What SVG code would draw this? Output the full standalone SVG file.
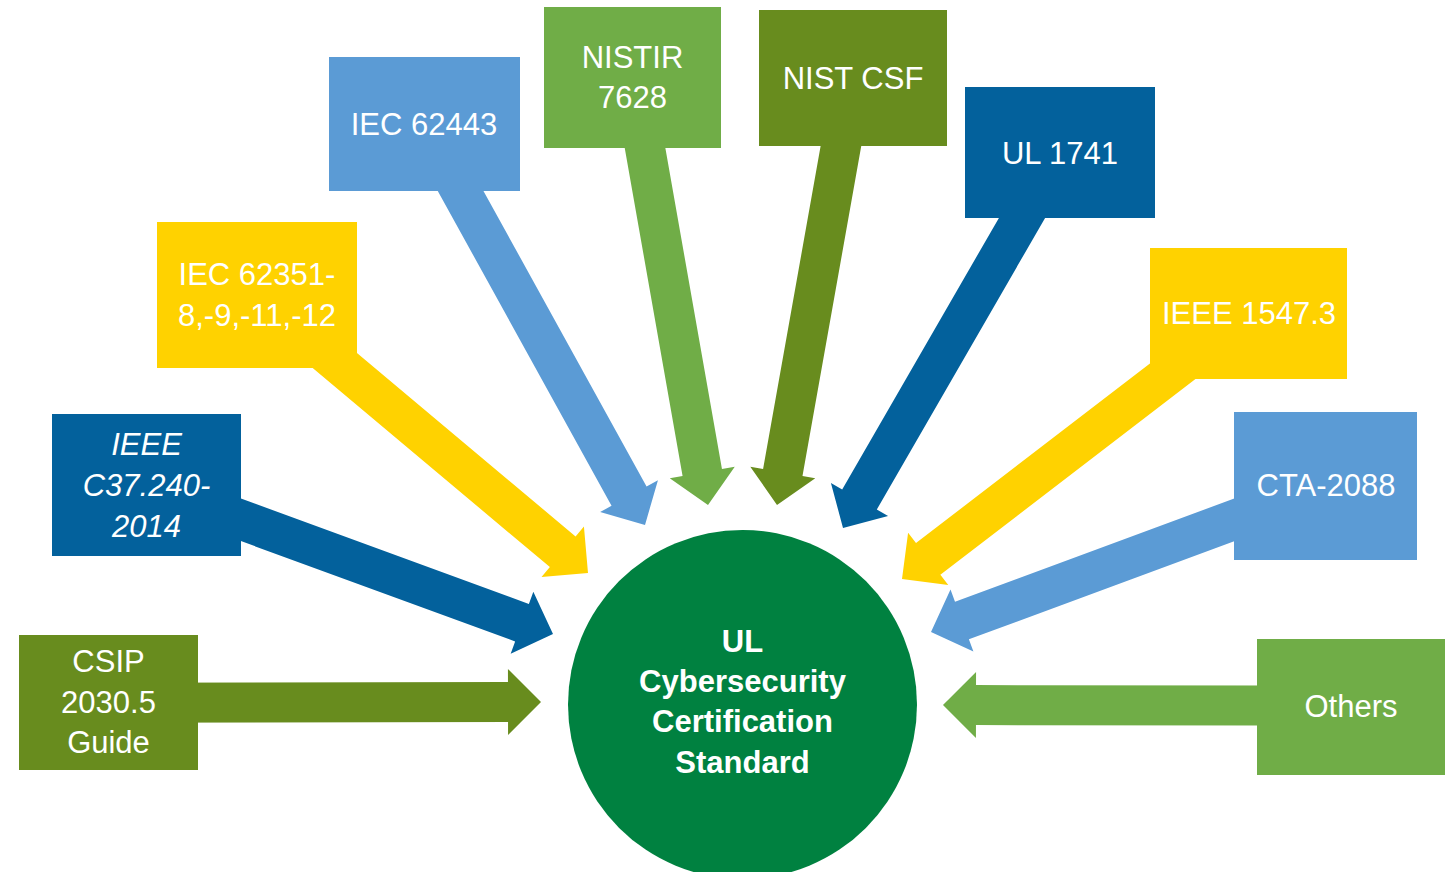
<svg xmlns="http://www.w3.org/2000/svg" width="1445" height="872" viewBox="0 0 1445 872">
  <style>
    .olive { fill: #688c1e; }
    .navy { fill: #03619c; }
    .gold { fill: #ffd200; }
    .sky { fill: #5b9bd5; }
    .leaf { fill: #70ad47; }
    .hub { fill: #008140; }
    .label { font-family: "Liberation Sans", Arial, sans-serif; font-size: 31px; fill: #ffffff; text-anchor: middle; }
    .italic { font-style: italic; }
    .hub-label { font-family: "Liberation Sans", Arial, sans-serif; font-size: 31px; font-weight: bold; fill: #ffffff; text-anchor: middle; }
  </style>
  <defs>
    <!-- block arrow pointing along +x, tip at the origin; shaft reaches back 440px -->
    <path id="block-arrow" d="M -440,-20 L -33,-20 L -33,-33 L 0,0 L -33,33 L -33,20 L -440,20 Z"/>
  </defs>
  <rect width="1445" height="872" fill="#ffffff"/>

  <!-- connectors: each block arrow runs from its box toward the hub -->
  <g id="connectors">
    <use href="#block-arrow" class="olive" transform="translate(541,702) rotate(-0.1)"/>
    <use href="#block-arrow" class="navy" transform="translate(553,634) rotate(20.1)"/>
    <use href="#block-arrow" class="gold" transform="translate(588,573) rotate(40)"/>
    <use href="#block-arrow" class="sky" transform="translate(645,525) rotate(61.1)"/>
    <use href="#block-arrow" class="leaf" transform="translate(708,505) rotate(80)"/>
    <use href="#block-arrow" class="olive" transform="translate(777,505) rotate(100.1)"/>
    <use href="#block-arrow" class="navy" transform="translate(843,528) rotate(120)"/>
    <use href="#block-arrow" class="gold" transform="translate(902,579) rotate(142.5)"/>
    <use href="#block-arrow" class="sky" transform="translate(931,632) rotate(159.7)"/>
    <use href="#block-arrow" class="leaf" transform="translate(943,705) rotate(180.1)"/>
  </g>

  <g id="hub">
    <circle class="hub" cx="742.5" cy="704.5" r="174.5"/>
    <text class="hub-label" x="742.5" y="652">UL</text>
    <text class="hub-label" x="742.5" y="692">Cybersecurity</text>
    <text class="hub-label" x="742.5" y="732">Certification</text>
    <text class="hub-label" x="742.5" y="773">Standard</text>
  </g>

  <g id="csip">
    <rect class="olive" x="19" y="635" width="179" height="135"/>
    <text class="label" x="108.5" y="672">CSIP</text>
    <text class="label" x="108.5" y="713">2030.5</text>
    <text class="label" x="108.5" y="753">Guide</text>
  </g>

  <g id="ieee-c37">
    <rect class="navy" x="52" y="414" width="189" height="142"/>
    <text class="label italic" x="146.5" y="455">IEEE</text>
    <text class="label italic" x="146.5" y="496">C37.240-</text>
    <text class="label italic" x="146.5" y="537">2014</text>
  </g>

  <g id="iec-62351">
    <rect class="gold" x="157" y="222" width="200" height="146"/>
    <text class="label" x="257" y="285">IEC 62351-</text>
    <text class="label" x="257" y="326">8,-9,-11,-12</text>
  </g>

  <g id="iec-62443">
    <rect class="sky" x="329" y="57" width="191" height="134"/>
    <text class="label" x="424" y="135">IEC 62443</text>
  </g>

  <g id="nistir-7628">
    <rect class="leaf" x="544" y="7" width="177" height="141"/>
    <text class="label" x="632.5" y="68">NISTIR</text>
    <text class="label" x="632.5" y="108">7628</text>
  </g>

  <g id="nist-csf">
    <rect class="olive" x="759" y="10" width="188" height="136"/>
    <text class="label" x="853" y="89">NIST CSF</text>
  </g>

  <g id="ul-1741">
    <rect class="navy" x="965" y="87" width="190" height="131"/>
    <text class="label" x="1060" y="164">UL 1741</text>
  </g>

  <g id="ieee-1547-3">
    <rect class="gold" x="1150" y="248" width="197" height="131"/>
    <text class="label" x="1249" y="324">IEEE 1547.3</text>
  </g>

  <g id="cta-2088">
    <rect class="sky" x="1234" y="412" width="183" height="148"/>
    <text class="label" x="1326" y="496">CTA-2088</text>
  </g>

  <g id="others">
    <rect class="leaf" x="1257" y="639" width="188" height="136"/>
    <text class="label" x="1351" y="717">Others</text>
  </g>
</svg>
